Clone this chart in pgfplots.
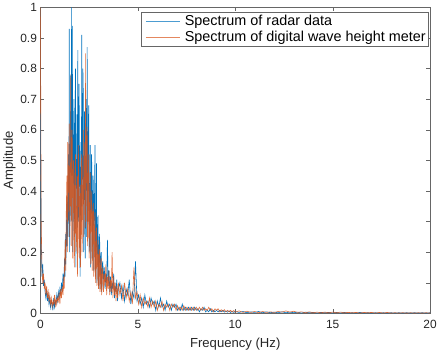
\documentclass[border=0pt]{standalone}
\usepackage{pgfplots}
\pgfplotsset{compat=1.18}
\usepackage{fontspec}
\setmainfont{Liberation Sans}
\definecolor{mblue}{rgb}{0,0.447,0.741}
\definecolor{morange}{rgb}{0.85,0.325,0.098}
\begin{document}
\begin{tikzpicture}
\begin{axis}[
  scale only axis, width=391bp, height=307bp,
  xmin=0, xmax=20, ymin=0, ymax=1,
  xtick={0,5,10,15,20}, ytick={0,0.1,...,1},
  yticklabels={0,0.1,0.2,0.3,0.4,0.5,0.6,0.7,0.8,0.9,1},
  tick align=inside, tick pos=both,
  major tick length=4bp,
  axis line style={draw=black!60}, tick style={draw=black!60},
  /pgf/number format/assume math mode=true,
  tick label style={font=\fontsize{12}{14}\selectfont, text=black!85},
  label style={font=\fontsize{13.2}{15}\selectfont, text=black!85},
  xlabel={Frequency (Hz)}, ylabel={Amplitude},
  xticklabel style={yshift=-3bp},
  xlabel style={yshift=-3bp}, ylabel style={yshift=-2bp},
  legend cell align=left,
  legend style={at={(0.997,0.984)}, anchor=north east, draw=black!60, font=\fontsize{14.5}{17}\selectfont, inner sep=1bp, row sep=0bp},
]
\addlegendimage{legend image code/.code={\path (0bp,0bp) (40bp,0bp); \draw[draw=mblue!70, line width=0.7bp] (3bp,0bp) -- (37bp,0bp);}}
\addlegendentry{Spectrum of radar data}
\addlegendimage{legend image code/.code={\path (0bp,0bp) (40bp,0bp); \draw[draw=morange!70, line width=0.7bp] (3bp,0bp) -- (37bp,0bp);}}
\addlegendentry{Spectrum of digital wave height meter}
\addplot[color=mblue, line width=0.6bp, forget plot] coordinates {
(0.00,0.65)(0.04,0.25)(0.08,0.12)(0.12,0.16)(0.16,0.09)(0.20,0.11)(0.24,0.07)(0.28,0.05)(0.32,0.08)(0.36,0.04)
(0.40,0.06)(0.44,0.03)(0.48,0.05)(0.52,0.02)(0.56,0.04)(0.60,0.03)(0.64,0.01)(0.68,0.05)(0.72,0.02)(0.76,0.04)
(0.80,0.03)(0.84,0.06)(0.88,0.04)(0.92,0.07)(0.96,0.05)(1.00,0.08)(1.04,0.06)(1.08,0.10)(1.12,0.07)(1.16,0.13)
(1.20,0.10)(1.22,0.14)(1.24,0.18)(1.26,0.12)(1.28,0.26)(1.30,0.16)(1.32,0.20)(1.34,0.30)(1.36,0.38)(1.38,0.22)
(1.40,0.30)(1.42,0.45)(1.44,0.52)(1.46,0.25)(1.48,0.93)(1.50,0.20)(1.52,0.35)(1.54,0.60)(1.56,0.78)(1.58,0.30)
(1.60,1.00)(1.62,0.45)(1.64,0.94)(1.66,0.20)(1.68,0.40)(1.70,0.58)(1.72,0.70)(1.74,0.25)(1.76,0.42)(1.78,0.65)
(1.80,0.80)(1.82,0.15)(1.84,0.38)(1.86,0.55)(1.88,0.65)(1.90,0.28)(1.92,0.86)(1.94,0.40)(1.96,0.30)(1.98,0.75)
(2.00,0.62)(2.02,0.22)(2.04,0.12)(2.06,0.48)(2.08,0.56)(2.10,0.30)(2.12,0.91)(2.14,0.35)(2.16,0.45)(2.18,0.80)
(2.20,0.72)(2.22,0.20)(2.24,0.28)(2.26,0.66)(2.28,0.60)(2.30,0.18)(2.32,0.35)(2.34,0.70)(2.36,0.50)(2.38,0.25)
(2.40,0.87)(2.42,0.30)(2.44,0.40)(2.46,0.62)(2.48,0.68)(2.50,0.20)(2.52,0.22)(2.54,0.50)(2.56,0.55)(2.58,0.15)
(2.60,0.38)(2.62,0.52)(2.64,0.48)(2.66,0.18)(2.68,0.25)(2.70,0.45)(2.72,0.42)(2.74,0.14)(2.76,0.30)(2.78,0.40)
(2.80,0.55)(2.82,0.12)(2.84,0.20)(2.86,0.38)(2.88,0.49)(2.90,0.10)(2.92,0.18)(2.94,0.28)(2.96,0.32)(2.98,0.09)
(3.00,0.15)(3.02,0.22)(3.04,0.26)(3.06,0.08)(3.08,0.12)(3.10,0.19)(3.12,0.20)(3.14,0.07)(3.16,0.09)(3.18,0.16)
(3.20,0.17)(3.24,0.11)(3.28,0.15)(3.32,0.08)(3.36,0.13)(3.40,0.10)(3.44,0.24)(3.48,0.09)(3.52,0.14)(3.56,0.07)
(3.60,0.12)(3.64,0.06)(3.68,0.10)(3.72,0.08)(3.76,0.13)(3.80,0.05)(3.84,0.09)(3.88,0.07)(3.92,0.11)(3.96,0.04)
(4.00,0.08)(4.08,0.10)(4.16,0.05)(4.24,0.09)(4.32,0.04)(4.40,0.08)(4.48,0.06)(4.56,0.11)(4.64,0.03)(4.72,0.07)
(4.80,0.05)(4.88,0.17)(4.96,0.04)(5.04,0.06)(5.12,0.03)(5.20,0.05)(5.28,0.02)(5.36,0.06)(5.44,0.03)(5.52,0.04)
(5.60,0.02)(5.68,0.05)(5.76,0.03)(5.84,0.04)(5.92,0.01)(6.00,0.04)(6.08,0.02)(6.16,0.05)(6.24,0.02)(6.32,0.03)
(6.40,0.01)(6.48,0.04)(6.56,0.02)(6.64,0.03)(6.72,0.01)(6.80,0.03)(6.88,0.02)(6.96,0.03)(7.04,0.01)(7.12,0.02)
(7.20,0.01)(7.28,0.03)(7.36,0.01)(7.44,0.02)(7.52,0.01)(7.60,0.02)(7.68,0.01)(7.76,0.02)(7.84,0.01)(7.92,0.02)
(8.00,0.01)(8.08,0.015)(8.16,0.005)(8.24,0.015)(8.32,0.01)(8.40,0.02)(8.48,0.005)(8.56,0.01)(8.64,0.005)(8.72,0.015)
(8.80,0.005)(8.88,0.01)(8.96,0.005)(9.04,0.01)(9.12,0.005)(9.20,0.01)(9.28,0.005)(9.36,0.01)(9.44,0.004)(9.52,0.008)
(9.60,0.004)(9.68,0.008)(9.76,0.003)(9.84,0.007)(9.92,0.003)(10.00,0.006)
(10.2,0.003)(10.4,0.006)(10.6,0.002)(10.8,0.005)(11.0,0.003)(11.2,0.006)(11.4,0.002)(11.6,0.005)(11.8,0.002)(12.0,0.004)
(12.2,0.002)(12.4,0.005)(12.6,0.002)(12.8,0.004)(13.0,0.002)(13.2,0.004)(13.4,0.001)(13.6,0.004)(13.8,0.002)(14.0,0.003)
(14.2,0.001)(14.4,0.003)(14.6,0.002)(14.8,0.003)(15.0,0.001)(15.2,0.003)(15.4,0.001)(15.6,0.003)(15.8,0.001)(16.0,0.002)
(16.2,0.001)(16.4,0.003)(16.6,0.001)(16.8,0.002)(17.0,0.001)(17.2,0.002)(17.4,0.001)(17.6,0.002)(17.8,0.001)(18.0,0.002)
(18.2,0.001)(18.4,0.002)(18.6,0.001)(18.8,0.002)(19.0,0.001)(19.2,0.002)(19.4,0.001)(19.6,0.002)(19.8,0.001)(20.0,0.002)
};
\addplot[color=morange, line width=0.6bp, opacity=0.85, forget plot] coordinates {
(0.00,1.00)(0.04,0.30)(0.08,0.14)(0.12,0.10)(0.16,0.13)(0.20,0.08)(0.24,0.10)(0.28,0.06)(0.32,0.09)(0.36,0.05)
(0.40,0.07)(0.44,0.04)(0.48,0.06)(0.52,0.03)(0.56,0.05)(0.60,0.02)(0.64,0.04)(0.68,0.03)(0.72,0.06)(0.76,0.02)
(0.80,0.05)(0.84,0.03)(0.88,0.05)(0.92,0.04)(0.96,0.07)(1.00,0.03)(1.04,0.08)(1.08,0.05)(1.12,0.09)(1.16,0.06)
(1.20,0.12)(1.22,0.08)(1.24,0.16)(1.26,0.20)(1.28,0.24)(1.30,0.14)(1.32,0.30)(1.34,0.38)(1.36,0.45)(1.38,0.20)
(1.40,0.56)(1.42,0.30)(1.44,0.40)(1.46,0.50)(1.48,0.62)(1.50,0.25)(1.52,0.48)(1.54,0.35)(1.56,0.78)(1.58,0.22)
(1.60,0.35)(1.62,0.60)(1.64,0.55)(1.66,0.18)(1.68,0.30)(1.70,0.50)(1.72,0.48)(1.74,0.15)(1.76,0.26)(1.78,0.44)
(1.80,0.52)(1.82,0.20)(1.84,0.22)(1.86,0.40)(1.88,0.45)(1.90,0.12)(1.92,0.30)(1.94,0.55)(1.96,0.50)(1.98,0.20)
(2.00,0.18)(2.02,0.38)(2.04,0.42)(2.06,0.15)(2.08,0.25)(2.10,0.52)(2.12,0.48)(2.14,0.20)(2.16,0.32)(2.18,0.45)
(2.20,0.60)(2.22,0.25)(2.24,0.35)(2.26,0.50)(2.28,0.56)(2.30,0.28)(2.32,0.85)(2.34,0.30)(2.36,0.40)(2.38,0.58)
(2.40,0.61)(2.42,0.22)(2.44,0.30)(2.46,0.48)(2.48,0.52)(2.50,0.18)(2.52,0.26)(2.54,0.40)(2.56,0.46)(2.58,0.16)
(2.60,0.22)(2.62,0.36)(2.64,0.40)(2.66,0.14)(2.68,0.20)(2.70,0.34)(2.72,0.36)(2.74,0.12)(2.76,0.18)(2.78,0.30)
(2.80,0.33)(2.82,0.10)(2.84,0.15)(2.86,0.26)(2.88,0.28)(2.90,0.09)(2.92,0.12)(2.94,0.22)(2.96,0.24)(2.98,0.08)
(3.00,0.10)(3.02,0.19)(3.04,0.21)(3.06,0.07)(3.08,0.09)(3.10,0.16)(3.12,0.18)(3.14,0.06)(3.16,0.08)(3.18,0.14)
(3.20,0.15)(3.24,0.07)(3.28,0.13)(3.32,0.09)(3.36,0.16)(3.40,0.06)(3.44,0.12)(3.48,0.08)(3.52,0.14)(3.56,0.06)
(3.60,0.11)(3.64,0.07)(3.68,0.20)(3.72,0.05)(3.76,0.12)(3.80,0.06)(3.84,0.10)(3.88,0.04)(3.92,0.09)(3.96,0.05)
(4.00,0.10)(4.08,0.06)(4.16,0.09)(4.24,0.04)(4.32,0.10)(4.40,0.05)(4.48,0.08)(4.56,0.04)(4.64,0.07)(4.72,0.03)
(4.80,0.15)(4.88,0.05)(4.96,0.07)(5.04,0.03)(5.12,0.06)(5.20,0.02)(5.28,0.05)(5.36,0.03)(5.44,0.04)(5.52,0.02)
(5.60,0.05)(5.68,0.02)(5.76,0.04)(5.84,0.02)(5.92,0.04)(6.00,0.01)(6.08,0.03)(6.16,0.02)(6.24,0.04)(6.32,0.01)
(6.40,0.03)(6.48,0.02)(6.56,0.03)(6.64,0.01)(6.72,0.03)(6.80,0.02)(6.88,0.03)(6.96,0.01)(7.04,0.025)(7.12,0.01)
(7.20,0.02)(7.28,0.01)(7.36,0.025)(7.44,0.01)(7.52,0.02)(7.60,0.01)(7.68,0.02)(7.76,0.01)(7.84,0.02)(7.92,0.01)
(8.00,0.02)(8.08,0.01)(8.16,0.02)(8.24,0.01)(8.32,0.02)(8.40,0.01)(8.48,0.015)(8.56,0.01)(8.64,0.02)(8.72,0.01)
(8.80,0.015)(8.88,0.005)(8.96,0.015)(9.04,0.01)(9.12,0.015)(9.20,0.005)(9.28,0.012)(9.36,0.006)(9.44,0.012)(9.52,0.005)
(9.60,0.01)(9.68,0.005)(9.76,0.01)(9.84,0.004)(9.92,0.009)(10.00,0.004)
(10.2,0.008)(10.4,0.003)(10.6,0.007)(10.8,0.003)(11.0,0.006)(11.2,0.002)(11.4,0.006)(11.6,0.003)(11.8,0.005)(12.0,0.003)
(12.2,0.006)(12.4,0.004)(12.6,0.008)(12.8,0.004)(13.0,0.007)(13.2,0.003)(13.4,0.005)(13.6,0.002)(13.8,0.005)(14.0,0.002)
(14.2,0.004)(14.4,0.002)(14.6,0.004)(14.8,0.002)(15.0,0.004)(15.2,0.002)(15.4,0.004)(15.6,0.002)(15.8,0.003)(16.0,0.002)
(16.2,0.003)(16.4,0.001)(16.6,0.003)(16.8,0.002)(17.0,0.003)(17.2,0.001)(17.4,0.003)(17.6,0.001)(17.8,0.003)(18.0,0.001)
(18.2,0.002)(18.4,0.001)(18.6,0.002)(18.8,0.001)(19.0,0.002)(19.2,0.001)(19.4,0.002)(19.6,0.001)(19.8,0.002)(20.0,0.001)
};
\end{axis}
\end{tikzpicture}
\end{document}
